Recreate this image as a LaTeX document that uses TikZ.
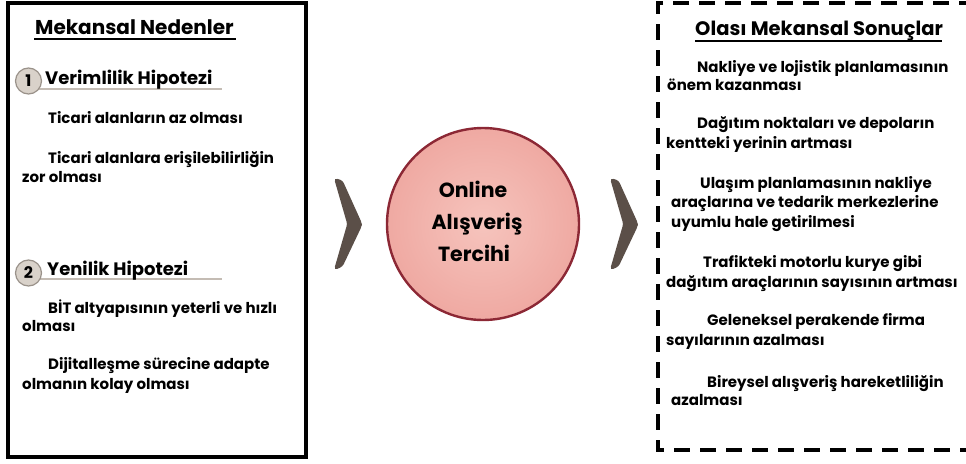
\documentclass[tikz,border=0pt]{standalone}
\usepackage{fontspec}
\setmainfont{Poppins}
\usetikzlibrary{shadings}
\definecolor{chev}{HTML}{5B4F48}
\definecolor{cedge}{HTML}{8C2835}
\definecolor{cin}{HTML}{F6C4BD}
\definecolor{cout}{HTML}{EFA9A2}
\definecolor{numfill}{HTML}{D9D2CA}
\definecolor{numedge}{HTML}{9A928A}
\definecolor{hline}{HTML}{C4BCB4}
\begin{document}
\begin{tikzpicture}[x=1pt,y=-1pt,
  txt/.style={anchor=base west,inner sep=0pt,font=\fontsize{15}{17}\selectfont\bfseries},
  head/.style={anchor=base west,inner sep=0pt,font=\fontsize{20}{22}\selectfont\bfseries},
  hyp/.style={anchor=base west,inner sep=0pt,font=\fontsize{18}{20}\selectfont\bfseries},
  num/.style={circle,fill=numfill,draw=numedge,line width=1.2pt,minimum size=26pt,inner sep=0pt,font=\fontsize{16}{17}\selectfont\bfseries},
  chevron/.style={fill=chev,draw=chev,line width=1.5pt,rounded corners=2.5pt},
  ctext/.style={anchor=base,inner sep=0pt,font=\fontsize{20.5}{22}\selectfont\bfseries}]
\useasboundingbox (0,0) rectangle (966,463);
% left box
\draw[line width=3.2pt] (8,3) rectangle (306,457);
\node[head] (h1) at (35,34) {Mekansal Nedenler};
\draw[line width=2pt] (34,39) -- (236,39);
\draw[hline,line width=2.2pt] (37,89) -- (222,89);
\node[num] (n1) at (28.5,81) {1};
\node[hyp] (v1) at (45,84) {Verimlilik Hipotezi};
\node[txt] (l1) at (48,123) {Ticari alanların az olması};
\node[txt] (l2) at (48,163) {Ticari alanlara erişilebilirliğin};
\node[txt] (l3) at (22,182) {zor olması};
\draw[hline,line width=2.2pt] (37,279) -- (222,279);
\node[num] (n2) at (28.5,273) {2};
\node[hyp] (v2) at (47,275) {Yenilik Hipotezi};
\node[txt] (l4) at (48,313) {BİT altyapısının yeterli ve hızlı};
\node[txt] (l5) at (22,331) {olması};
\node[txt] (l6) at (48,369) {Dijitalleşme sürecine adapte};
\node[txt] (l7) at (22,389) {olmanın kolay olması};
% chevrons
\filldraw[chevron] (335,179) -- (342,181) -- (361,223) -- (361,226) -- (342,266) -- (335,269) -- (348,224) -- cycle;
\filldraw[chevron] (611,179) -- (618,181) -- (637,223) -- (637,226) -- (618,266) -- (611,269) -- (624,224) -- cycle;
% circle
\node[circle,minimum size=192pt,inner sep=0pt,draw=cedge,line width=2.4pt,inner color=cin,outer color=cout] (c) at (483,224) {};
\node[ctext] (t1) at (473,197) {Online};
\node[ctext] (t2) at (477,229) {Alışveriş};
\node[ctext] (t3) at (474,261) {Tercihi};
% right box
\draw[line width=3.6pt,dash pattern=on 16pt off 10pt] (975,3) -- (658,3) -- (658,450) -- (975,450);
\node[head,font=\fontsize{19.5}{22}\selectfont\bfseries] (h2) at (695,35) {Olası Mekansal Sonuçlar};
\draw[line width=2pt] (695,41) -- (942,41);
\node[txt] (r1) at (697,72) {Nakliye ve lojistik planlamasının};
\node[txt] (r2) at (667,90) {önem kazanması};
\node[txt] (r3) at (697,128) {Dağıtım noktaları ve depoların};
\node[txt] (r4) at (666,148) {kentteki yerinin artması};
\node[txt] (r5) at (700,188) {Ulaşım planlamasının nakliye};
\node[txt] (r6) at (671,207) {araçlarına ve tedarik merkezlerine};
\node[txt] (r7) at (671,227) {uyumlu hale getirilmesi};
\node[txt] (r8) at (703,267) {Trafikteki motorlu kurye gibi};
\node[txt] (r9) at (666,287) {dağıtım araçlarının sayısının artması};
\node[txt] (r10) at (707,325) {Geleneksel perakende firma};
\node[txt] (r11) at (666,345) {sayılarının azalması};
\node[txt] (r12) at (707,387) {Bireysel alışveriş hareketliliğin};
\node[txt] (r13) at (671,405) {azalması};
\end{tikzpicture}
\end{document}
